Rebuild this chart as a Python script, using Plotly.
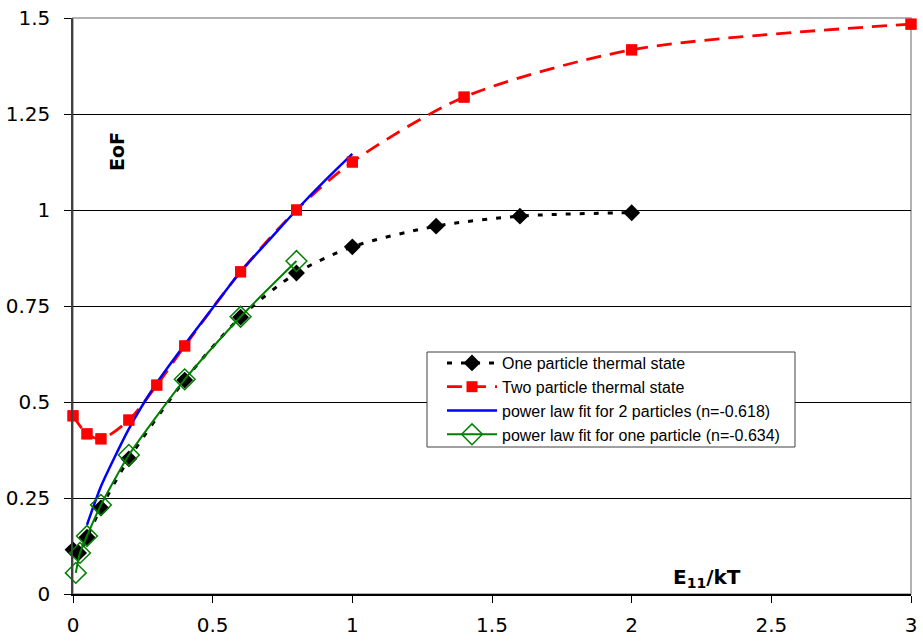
import plotly.graph_objects as go

# One particle thermal state
x_one = [0.0, 0.02, 0.05, 0.1, 0.2, 0.4, 0.6, 0.8, 1.0, 1.3, 1.6, 2.0]
y_one = [0.115, 0.107, 0.148, 0.224, 0.352, 0.557, 0.721, 0.836, 0.904, 0.958, 0.984, 0.993]

# Two particle thermal state
x_two = [0.0, 0.05, 0.1, 0.2, 0.3, 0.4, 0.6, 0.8, 1.0, 1.4, 2.0, 3.0]
y_two = [0.464, 0.417, 0.404, 0.453, 0.544, 0.646, 0.839, 1.0, 1.125, 1.294, 1.417, 1.484]

# power law fit for 2 particles
x_fit2 = [0.05, 0.1, 0.2, 0.3, 0.4, 0.5, 0.6, 0.7, 0.8, 0.9, 1.0]
y_fit2 = [0.18, 0.28, 0.43, 0.55, 0.65, 0.745, 0.84, 0.92, 1.0, 1.075, 1.146]

# power law fit for one particle
x_fit1 = [0.01, 0.025, 0.05, 0.1, 0.2, 0.4, 0.6, 0.8]
y_fit1 = [0.055, 0.107, 0.151, 0.232, 0.362, 0.559, 0.722, 0.867]

x_ticks = [0, 0.5, 1, 1.5, 2, 2.5, 3]
x_tick_labels = ["0", "0.5", "1", "1.5", "2", "2.5", "3"]
y_ticks = [0, 0.25, 0.5, 0.75, 1, 1.25, 1.5]
y_tick_labels = ["0", "0.25", "0.5", "0.75", "1", "1.25", "1.5"]

FONT = "Liberation Sans, Arial, sans-serif"
WIDE = "DejaVu Sans, Verdana, sans-serif"

W, H = 923, 642
L, T, R, B = 73, 18, 12, 48
PW, PH = W - L - R, H - T - B


def px(xw):
    return (xw - L) / PW


def py(yw):
    return (H - B - yw) / PH


fig = go.Figure()

# red line (drawn under blue)
fig.add_trace(go.Scatter(
    x=x_two, y=y_two, mode="lines+markers", name="Two particle thermal state",
    line=dict(color="#ff0000", width=2.8, dash="15px,9px", shape="spline", smoothing=0.8),
    marker=dict(symbol="square", size=11, color="#ff0000"),
    cliponaxis=False, legendrank=2))

fig.add_trace(go.Scatter(
    x=x_fit2, y=y_fit2, mode="lines", name="power law fit for 2 particles (n=-0.618)",
    line=dict(color="#0000ff", width=2.5, shape="spline", smoothing=0.6),
    legendrank=3))

fig.add_trace(go.Scatter(
    x=x_one, y=y_one, mode="lines+markers", name="One particle thermal state",
    line=dict(color="#000000", width=3, dash="5px,9px", shape="spline", smoothing=0.8),
    marker=dict(symbol="diamond", size=13, color="#000000"),
    cliponaxis=False, legendrank=1))

fig.add_trace(go.Scatter(
    x=x_fit1, y=y_fit1, mode="lines+markers", name="power law fit for one particle (n=-0.634)",
    line=dict(color="#008000", width=2, shape="spline", smoothing=0.6),
    marker=dict(symbol="diamond-open", size=16, color="#008000", line=dict(width=1.5)),
    cliponaxis=False, legendrank=4))

# red markers on top
fig.add_trace(go.Scatter(
    x=x_two, y=y_two, mode="markers", showlegend=False,
    marker=dict(symbol="square", size=11, color="#ff0000"),
    cliponaxis=False, hoverinfo="skip"))

fig.update_layout(
    width=W, height=H,
    margin=dict(l=L, r=R, t=T, b=B, autoexpand=False),
    paper_bgcolor="white", plot_bgcolor="white",
    font=dict(family=FONT, size=18, color="#000000"),
    showlegend=True,
    legend=dict(
        x=px(442), y=py(346), xanchor="left", yanchor="top",
        bgcolor="rgba(0,0,0,0)", borderwidth=0,
        font=dict(family=FONT, size=16, color="#000000"),
        tracegroupgap=0, itemwidth=50,
    ),
    shapes=[
        dict(type="rect", xref="paper", yref="paper", x0=0, x1=1, y0=0, y1=1,
             line=dict(color="#999999", width=1.5), layer="below"),
        dict(type="rect", xref="paper", yref="paper",
             x0=px(427), x1=px(795), y0=py(447), y1=py(352),
             line=dict(color="#404040", width=1), fillcolor="white", layer="above"),
    ],
    annotations=[
        dict(text="<b>EoF</b>", xref="paper", yref="paper",
             x=px(117), y=py(152), xanchor="center", yanchor="middle",
             showarrow=False, textangle=-90, font=dict(size=19, family=WIDE)),
        dict(text="<b>E<sub>11</sub>/kT</b>", xref="paper", yref="paper",
             x=px(707), y=py(578), xanchor="center", yanchor="middle",
             showarrow=False, font=dict(size=20, family=WIDE)),
    ],
)

fig.update_xaxes(
    range=[0, 3], tickvals=x_ticks, ticktext=x_tick_labels, automargin=False,
    showgrid=False, zeroline=False, ticklabeloverflow="allow",
    showline=True, linecolor="#000000", linewidth=1.5,
    ticks="outside", ticklen=7, tickcolor="#000000", tickwidth=1,
    ticklabelstandoff=5, tickfont=dict(size=20, family=WIDE))
fig.update_yaxes(
    range=[0, 1.5], tickvals=y_ticks, ticktext=y_tick_labels, automargin=False,
    showgrid=True, gridcolor="#000000", gridwidth=1, zeroline=False,
    ticklabeloverflow="allow",
    showline=True, linecolor="#404040", linewidth=1.5,
    ticks="outside", ticklen=7, tickcolor="#000000", tickwidth=1,
    ticklabelstandoff=10, tickfont=dict(size=20, family=WIDE))

fig.write_html(
    "out.html",
    config={"displayModeBar": False},
    post_script="document.body.style.margin='0';document.body.style.padding='0';",
)
